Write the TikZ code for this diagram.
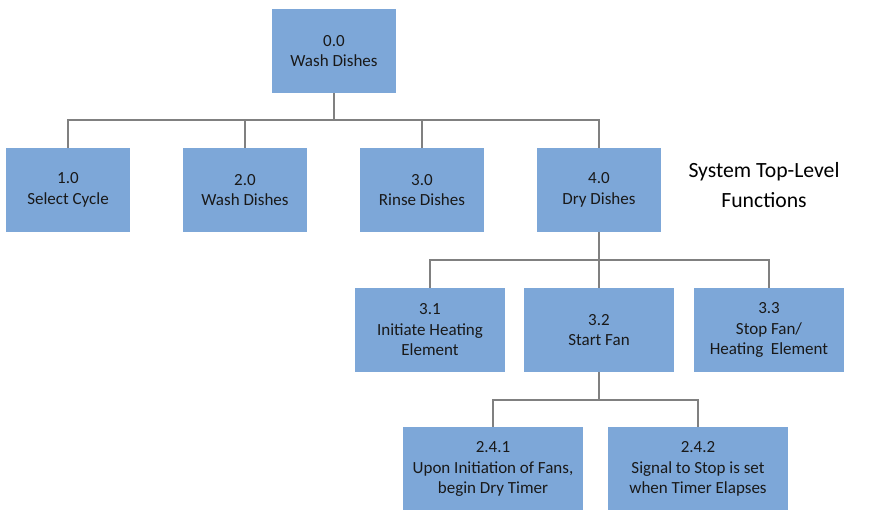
\documentclass[tikz,border=0pt]{standalone}
\usepackage{fontspec}
\setmainfont{Carlito}
\definecolor{boxblue}{HTML}{7DA7D8}
\definecolor{linkgray}{HTML}{808080}
\begin{document}
\begin{tikzpicture}[x=1pt,y=-1pt,
  fn/.style={fill=boxblue, draw=none, inner sep=0pt, align=center,
    font=\fontsize{17}{20.5}\selectfont, text=black!90},
  link/.style={draw=linkgray, line width=2.4pt}]
\useasboundingbox (0,0) rectangle (874,510);
% tree of functions
\node[fn, minimum width=124, minimum height=84] (n0) at (334,51) {0.0\\Wash Dishes};
\node[fn, minimum width=124, minimum height=84] (n1) at (68,190) {1.0\\Select Cycle};
\node[fn, minimum width=124, minimum height=84] (n2) at (245,190) {2.0\\Wash Dishes};
\node[fn, minimum width=124, minimum height=84] (n3) at (422,190) {3.0\\Rinse Dishes};
\node[fn, minimum width=124, minimum height=84] (n4) at (599,190) {4.0\\Dry Dishes};
\node[fn, minimum width=150, minimum height=84] (n31) at (430,330) {3.1\\Initiate Heating\\Element};
\node[fn, minimum width=150, minimum height=84] (n32) at (599,330) {3.2\\Start Fan};
\node[fn, minimum width=150, minimum height=84] (n33) at (769,330) {3.3\\Stop Fan/\\Heating~~Element};
\node[fn, minimum width=180, minimum height=84] (n241) at (493,469) {2.4.1\\Upon Initiation of Fans,\\begin Dry Timer};
\node[fn, minimum width=180, minimum height=84] (n242) at (698,469) {2.4.2\\Signal to Stop is set\\when Timer Elapses};
\node[font=\fontsize{21.7}{29.5}\selectfont, align=center] (title) at (764,185) {System Top-Level\\Functions};
% connectors
\coordinate (b0) at (334,120);
\coordinate (b4) at (599,260);
\coordinate (b32) at (599,400);
\draw[link] (n0.south) -- (b0);
\draw[link] (b0) -| (n1.north);
\draw[link] (b0) -| (n2.north);
\draw[link] (b0) -| (n3.north);
\draw[link] (b0) -| (n4.north);
\draw[link] (n4.south) -- (b4);
\draw[link] (b4) -| (n31.north);
\draw[link] (b4) -- (n32.north);
\draw[link] (b4) -| (n33.north);
\draw[link] (n32.south) -- (b32);
\draw[link] (b32) -| (n241.north);
\draw[link] (b32) -| (n242.north);
\end{tikzpicture}
\end{document}
